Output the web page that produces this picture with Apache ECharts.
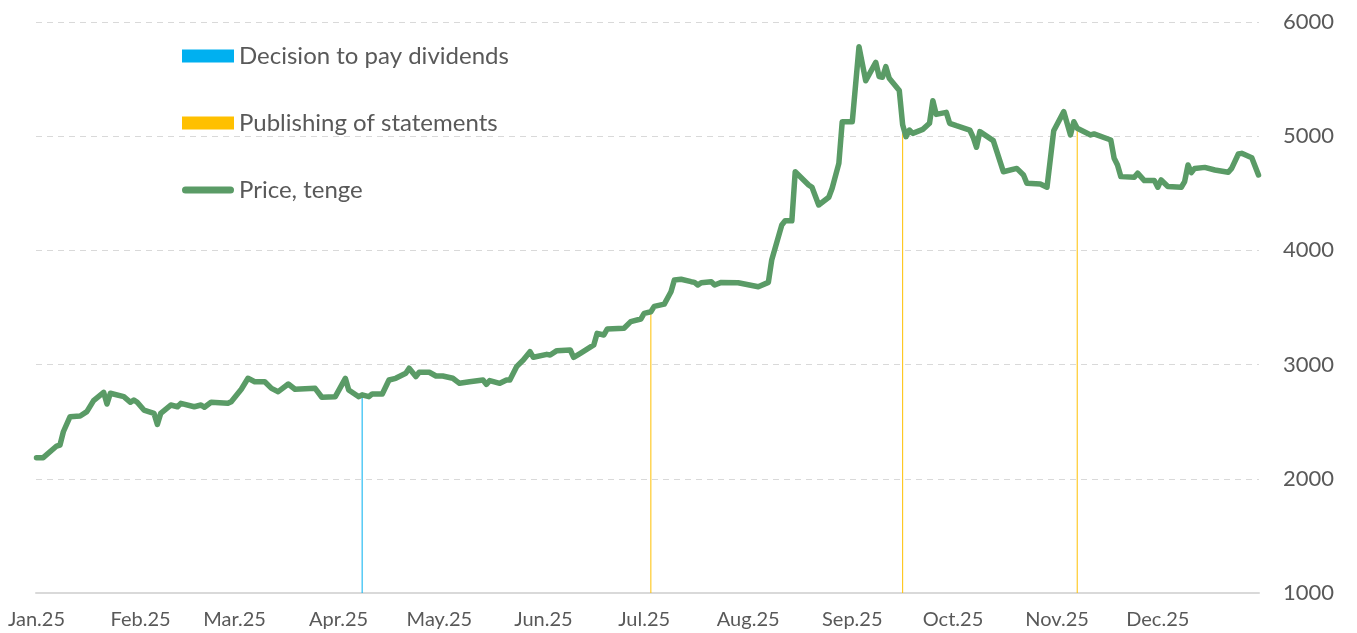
<!DOCTYPE html>
<html>
<head>
<meta charset="utf-8">
<script src="https://cdn.jsdelivr.net/npm/echarts@6/dist/echarts.min.js"></script>
<style>
  html, body { margin: 0; padding: 0; background: #fff; }
  #chart { width: 1357px; height: 633px; }
</style>
</head>
<body>
<div id="chart"></div>
<script>
  const priceDates = [
    '2025-01-01', '2025-01-03', '2025-01-07', '2025-01-08', '2025-01-09', '2025-01-11', '2025-01-14', '2025-01-16',
    '2025-01-18', '2025-01-21', '2025-01-22', '2025-01-23', '2025-01-27', '2025-01-29', '2025-01-30', '2025-01-31',
    '2025-02-02', '2025-02-05', '2025-02-06', '2025-02-07', '2025-02-10', '2025-02-12', '2025-02-13', '2025-02-17',
    '2025-02-19', '2025-02-20', '2025-02-22', '2025-02-27', '2025-02-28', '2025-03-03', '2025-03-05', '2025-03-07',
    '2025-03-10', '2025-03-12', '2025-03-14', '2025-03-17', '2025-03-19', '2025-03-25', '2025-03-27', '2025-03-31',
    '2025-04-03', '2025-04-04', '2025-04-07', '2025-04-08', '2025-04-10', '2025-04-11', '2025-04-14', '2025-04-16',
    '2025-04-18', '2025-04-21', '2025-04-22', '2025-04-24', '2025-04-25', '2025-04-28', '2025-04-30', '2025-05-02',
    '2025-05-05', '2025-05-07', '2025-05-10', '2025-05-14', '2025-05-15', '2025-05-16', '2025-05-19', '2025-05-21',
    '2025-05-22', '2025-05-24', '2025-05-26', '2025-05-28', '2025-05-29', '2025-06-02', '2025-06-03', '2025-06-05',
    '2025-06-09', '2025-06-10', '2025-06-12', '2025-06-16', '2025-06-17', '2025-06-19', '2025-06-20', '2025-06-25',
    '2025-06-27', '2025-06-30', '2025-07-01', '2025-07-03', '2025-07-04', '2025-07-07', '2025-07-09', '2025-07-10',
    '2025-07-12', '2025-07-15', '2025-07-16', '2025-07-17', '2025-07-18', '2025-07-21', '2025-07-22', '2025-07-24',
    '2025-07-29', '2025-08-04', '2025-08-07', '2025-08-08', '2025-08-11', '2025-08-12', '2025-08-14', '2025-08-15',
    '2025-08-19', '2025-08-20', '2025-08-22', '2025-08-25', '2025-08-26', '2025-08-28', '2025-08-29', '2025-09-01',
    '2025-09-03', '2025-09-05', '2025-09-08', '2025-09-09', '2025-09-10', '2025-09-11', '2025-09-12', '2025-09-15',
    '2025-09-16', '2025-09-17', '2025-09-18', '2025-09-19', '2025-09-22', '2025-09-24', '2025-09-25', '2025-09-26',
    '2025-09-29', '2025-09-30', '2025-10-02', '2025-10-06', '2025-10-07', '2025-10-08', '2025-10-09', '2025-10-13',
    '2025-10-16', '2025-10-20', '2025-10-22', '2025-10-23', '2025-10-27', '2025-10-29', '2025-10-31', '2025-11-03',
    '2025-11-05', '2025-11-06', '2025-11-07', '2025-11-11', '2025-11-12', '2025-11-17', '2025-11-18', '2025-11-19',
    '2025-11-20', '2025-11-24', '2025-11-25', '2025-11-27', '2025-11-30', '2025-12-01', '2025-12-02', '2025-12-04',
    '2025-12-08', '2025-12-09', '2025-12-10', '2025-12-11', '2025-12-12', '2025-12-15', '2025-12-18', '2025-12-22',
    '2025-12-23', '2025-12-25', '2025-12-26', '2025-12-29', '2025-12-31'
  ];
  const priceValues = [
    2185, 2185, 2287, 2296, 2412, 2544, 2550, 2588,
    2684, 2757, 2655, 2749, 2719, 2670, 2690, 2670,
    2602, 2573, 2477, 2573, 2646, 2631, 2661, 2631,
    2646, 2626, 2670, 2661, 2675, 2784, 2880, 2850,
    2850, 2792, 2763, 2830, 2784, 2792, 2714, 2719,
    2880, 2778, 2719, 2735, 2719, 2743, 2743, 2865,
    2880, 2924, 2968, 2895, 2933, 2933, 2900, 2900,
    2880, 2836, 2850, 2865, 2827, 2860, 2836, 2865,
    2865, 2982, 3040, 3113, 3064, 3090, 3084, 3122,
    3128, 3064, 3099, 3172, 3274, 3259, 3312, 3318,
    3376, 3399, 3449, 3463, 3510, 3530, 3638, 3741,
    3747, 3726, 3720, 3697, 3717, 3726, 3697, 3720,
    3717, 3682, 3720, 3916, 4223, 4260, 4260, 4689,
    4573, 4553, 4398, 4465, 4544, 4762, 5127, 5127,
    5784, 5486, 5646, 5522, 5516, 5609, 5507, 5400,
    5100, 4996, 5054, 5025, 5060, 5113, 5311, 5191,
    5209, 5113, 5092, 5054, 4991, 4903, 5040, 4961,
    4689, 4718, 4660, 4588, 4582, 4553, 5048, 5215,
    5011, 5127, 5069, 5011, 5020, 4967, 4807, 4748,
    4646, 4641, 4676, 4611, 4611, 4553, 4617, 4559,
    4553, 4603, 4748, 4681, 4718, 4727, 4704, 4684,
    4718, 4844, 4850, 4812, 4660
  ];

  const dividendDates = ['2025-04-08'];
  const dividendValues = [2735];
  const statementDates = ['2025-07-03', '2025-09-16', '2025-11-07'];
  const statementValues = [3463, 5100, 5069];

  const monthNames = ['Jan', 'Feb', 'Mar', 'Apr', 'May', 'Jun', 'Jul', 'Aug', 'Sep', 'Oct', 'Nov', 'Dec'];

  const pair = (dates, values) => dates.map((d, i) => [d, values[i]]);

  const lineIcon = 'path://M3.5,0 L48.5,0 A3.5,3.5 0 0 1 48.5,7 L3.5,7 A3.5,3.5 0 0 1 3.5,0 Z';

  const chart = echarts.init(document.getElementById('chart'));
  chart.setOption({
    backgroundColor: '#ffffff',
    textStyle: { fontFamily: 'Lato' },
    animation: false,
    grid: { left: 36, right: 98, top: 22, bottom: 40, containLabel: false },
    legend: {
      orient: 'vertical',
      left: 177,
      top: 39,
      itemGap: 43,
      itemWidth: 52,
      itemHeight: 13,
      symbolKeepAspect: true,
      textStyle: { fontSize: 24, color: '#595959', fontFamily: 'Lato' },
      data: [
        { name: 'Decision to pay dividends', icon: 'rect' },
        { name: 'Publishing of statements', icon: 'rect' },
        { name: 'Price, tenge', icon: lineIcon }
      ]
    },
    xAxis: {
      type: 'time',
      min: '2025-01-01',
      max: '2025-12-31',
      minInterval: 28 * 86400000,
      maxInterval: 31 * 86400000,
      axisLine: { lineStyle: { color: '#d9d9d9', width: 2 } },
      axisTick: { show: false },
      splitLine: { show: false },
      axisLabel: {
        color: '#595959',
        fontSize: 20,
        margin: 17,
        showMaxLabel: false,
        formatter: function (value) {
          const d = new Date(value);
          return monthNames[d.getMonth()] + '.' + String(d.getFullYear()).slice(2);
        }
      }
    },
    yAxis: {
      type: 'value',
      position: 'right',
      min: 1000,
      max: 6000,
      interval: 1000,
      axisLine: { show: false },
      axisTick: { show: false },
      axisLabel: {
        color: '#595959',
        fontSize: 22,
        margin: 24,
        formatter: function (value) { return String(value); }
      },
      splitLine: { lineStyle: { color: '#d9d9d9', type: [6, 5], width: 1 } }
    },
    series: [
      {
        name: 'Decision to pay dividends',
        type: 'bar',
        barWidth: 1,
        itemStyle: { color: '#00b0f0' },
        data: pair(dividendDates, dividendValues)
      },
      {
        name: 'Publishing of statements',
        type: 'bar',
        barWidth: 1,
        barGap: '-100%',
        itemStyle: { color: '#ffc000' },
        data: pair(statementDates, statementValues)
      },
      {
        name: 'Price, tenge',
        type: 'line',
        symbol: 'none',
        showSymbol: false,
        z: 5,
        lineStyle: { color: '#5a9b66', width: 5.5, cap: 'round', join: 'round' },
        itemStyle: { color: '#5a9b66' },
        data: pair(priceDates, priceValues)
      }
    ]
  });
</script>
</body>
</html>
